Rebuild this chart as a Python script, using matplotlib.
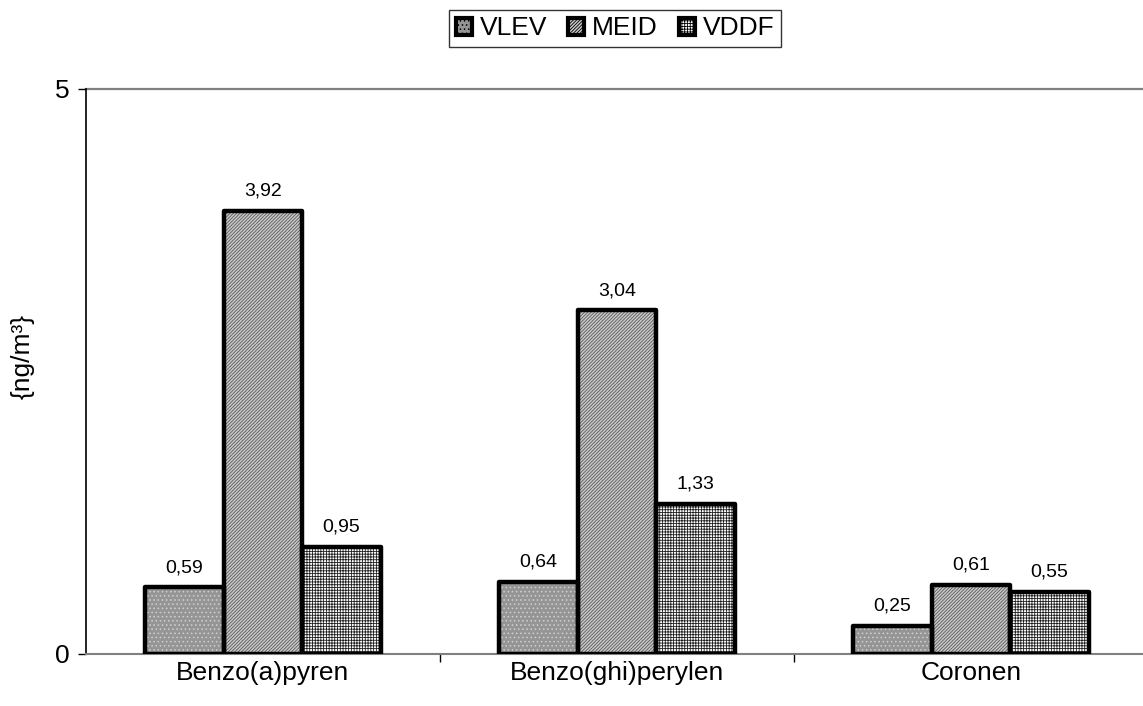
import matplotlib
matplotlib.use("Agg")
import matplotlib.pyplot as plt
from matplotlib.patches import Patch
import numpy as np

categories = ["Benzo(a)pyren", "Benzo(ghi)perylen", "Coronen"]
series_names = ["VLEV", "MEID", "VDDF"]
vlev = [0.59, 0.64, 0.25]
meid = [3.92, 3.04, 0.61]
vddf = [0.95, 1.33, 0.55]
values = [vlev, meid, vddf]
value_labels = [["0,59", "0,64", "0,25"],
                ["3,92", "3,04", "0,61"],
                ["0,95", "1,33", "0,55"]]

plt.rcParams["font.family"] = ["Liberation Sans", "DejaVu Sans"]
plt.rcParams["hatch.linewidth"] = 0.6

# fill: (face colour, hatch, hatch colour)
styles = [("#959595", "....", "#d0d0d0"),
          ("#c8c8c8", "//////////", "#5a5a5a"),
          ("#ffffff", "++++++", "#202020")]

fig = plt.figure(figsize=(11.43, 7.06), dpi=100)
ax = fig.add_axes([0.0752, 0.0737, 0.929, 0.8005])

x = np.arange(len(categories))
width = 0.222
for i, (vals, (fc, hatch, hc)) in enumerate(zip(values, styles)):
    pos = x + (i - 1) * width
    ax.bar(pos, vals, width, color=fc, edgecolor="none", linewidth=0, zorder=2)
    ax.bar(pos, vals, width, color="none", edgecolor=hc, hatch=hatch,
           linewidth=0, zorder=3)
    ax.bar(pos, vals, width, color="none", edgecolor="black", linewidth=3.2,
           zorder=4, joinstyle="round")
    for p, v, lab in zip(pos, vals, value_labels[i]):
        ax.annotate(lab, (p, v), xytext=(0, 8), textcoords="offset points",
                    ha="center", va="bottom", fontsize=14)

ax.set_xlim(-0.5, 2.5)
ax.set_ylim(0, 5)
ax.set_yticks([0, 5])
ax.set_yticklabels(["0", "5"], fontsize=19)
ax.set_xticks([0.5, 1.5, 2.5], minor=False)
ax.set_xticklabels([])
ax.set_xticks(x, minor=True)
ax.set_xticklabels(categories, minor=True, fontsize=19)
ax.tick_params(axis="x", which="minor", length=0, pad=5)
ax.tick_params(axis="x", which="major", length=6, width=1, color="black")
ax.tick_params(axis="y", length=6, width=1, pad=6)
ax.set_ylabel("{ng/m³}", fontsize=19)
ax.yaxis.set_label_coords(-0.048, 0.526)

ax.axhline(5, color="#808080", linewidth=1.6, zorder=1, clip_on=False)
for s in ["top", "right"]:
    ax.spines[s].set_visible(False)
ax.spines["bottom"].set_color("#808080")
ax.spines["bottom"].set_linewidth(1.5)
ax.spines["left"].set_color("black")
ax.spines["left"].set_linewidth(1.2)

# legend handles built from the same fill styles
handles = []
for name, (fc, hatch, hc) in zip(series_names, styles):
    handles.append(Patch(facecolor=fc, edgecolor="black", hatch=hatch, linewidth=3, label=name))
leg = fig.legend(handles=handles, loc="upper center", bbox_to_anchor=(0.538, 0.986),
                 ncol=3, frameon=True, fancybox=False, fontsize=19,
                 handlelength=0.6, handleheight=0.6, handletextpad=0.3,
                 columnspacing=0.8, borderpad=0.25, borderaxespad=0,
                 edgecolor="black")
leg.get_frame().set_linewidth(1.0)

fig.savefig("out.png", dpi=100)
